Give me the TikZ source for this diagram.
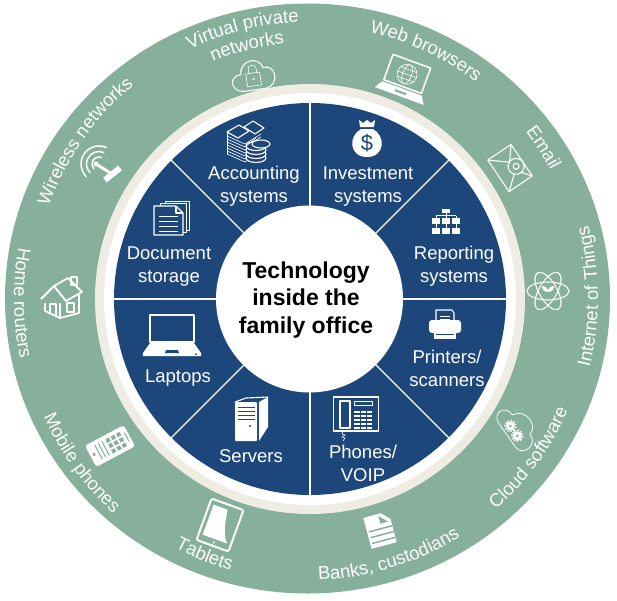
\documentclass[tikz,border=0pt]{standalone}
\usepackage{fontspec}
\setmainfont{Liberation Sans}
\usepackage{xcolor}
\usepackage{tikz}
\usetikzlibrary{decorations.text}

\definecolor{bandgreen}{HTML}{86B09B}
\definecolor{ringcream}{HTML}{EFECE3}
\definecolor{officeblue}{HTML}{1D477B}

\tikzset{
	sector/.style={white,align=center,font=\fontsize{18.5}{23}\selectfont},
	title/.style={black,align=center,font=\fontsize{23}{27.5}\selectfont\bfseries},
	iconline/.style={draw=white,line width=1.1pt,line join=round},
	iconthin/.style={draw=white,line width=0.6pt},
	iconfill/.style={fill=white}
}
\newcommand{\bandtext}[4]{\path[decorate,decoration={text along path,text align=center,
	text={|\fontsize{18.5}{23}\selectfont\color{white}|#4}}] (#2:#1) arc (#2:#3:#1);}

\begin{document}
\begin{tikzpicture}[x=1pt,y=1pt]
	\useasboundingbox (-310,-301) rectangle (307,299);

	\fill[bandgreen] (-2.5,0.5) ellipse [x radius=302.5,y radius=295];
	\foreach \a in {27,-9,207}
		\draw[bandgreen!85!white,line width=0.3pt] (\a:215) -- (\a:298);
	\fill[ringcream] (0,0) circle (215);
	\fill[white] (0,0) circle (206);
	\fill[officeblue] (0,0) circle (196);
	\foreach \a in {0,45,...,315}
		\draw[white,line width=1.4pt] (\a:90) -- (\a:198);
	\fill[white] (-0.5,0) circle (93.5);

	\node[title] (centre) at (-4,-1) {Technology\\inside the\\family office};

	\node[sector] (accounting) at (-56,112.5) {Accounting\\systems};
	\node[sector] (investment) at (58,112.5) {Investment\\systems};
	\node[sector] (reporting) at (144,32.5) {Reporting\\systems};
	\node[sector] (printers) at (137,-69) {Printers/\\scanners};
	\node[sector] (phones) at (53,-164.5) {Phones/\\VOIP};
	\node[sector] (servers) at (-59,-157) {Servers};
	\node[sector] (laptops) at (-132,-79.5) {Laptops};
	\node[sector] (document) at (-141,32.5) {Document\\storage};

	% outer band labels
	\bandtext{277}{175}{115}{Wireless networks}
	\bandtext{277}{134}{74}{Virtual private}
	\bandtext{256.5}{134}{74}{networks}
	\bandtext{273}{95}{35}{Web browsers}
	\bandtext{273}{63}{3}{Email}
	\bandtext{288}{-40}{41}{Internet of Things}
	\bandtext{281}{-76}{4}{Cloud software}
	\bandtext{281}{-113}{-33}{Banks, custodians}
	\bandtext{283}{207.6}{287.6}{Tablets}
	\bandtext{291}{175.6}{255.6}{Mobile phones}
	\bandtext{296}{140.8}{220.8}{Home routers}

	% accounting: notes and coins
	\begin{scope}[shift={(-63,159)}]
		\foreach \y in {-14,-11,...,4}
			\draw[iconthin] (-20,\y) -- (-2,\y-8) -- (14,\y+2);
		\draw[iconline,fill=officeblue] (-20,8) -- (-8,15) -- (2,9) -- (-9,2) -- cycle;
		\draw[iconline,fill=officeblue] (-3,13) -- (6,19) -- (17,12) -- (8,6) -- cycle;
		\draw[iconthin] (-20,8) -- (-20,-14);
		\foreach \y in {-18,-14,...,-6}
			\draw[iconline,fill=officeblue] (9,\y) ellipse [x radius=10,y radius=4.5];
		\draw[iconline,fill=officeblue] (14,-4) ellipse [x radius=9,y radius=4];
		\draw[iconthin] (-2,-7) -- (9,2);
	\end{scope}

	% investment: money bag
	\begin{scope}[shift={(57,160)}]
		\fill[white] (-7,12) -- (-8,19) -- (-4,16) -- (0,19) -- (4,16) -- (8,19) -- (7,12) -- cycle;
		\fill[white] (-6,10) .. controls (-19,3) and (-18,-18) .. (0,-18) .. controls (18,-18) and (19,3) .. (6,10) -- cycle;
		\node[officeblue,font=\fontsize{22}{22}\selectfont] (dollar) at (0,-4) {\$};
	\end{scope}

	% reporting: org chart
	\begin{scope}[shift={(136,78)}]
		\fill[white] (-4,8) rectangle (4,12);
		\foreach \x in {-10,0,10} {
			\fill[white] (\x-4,-3) rectangle (\x+4,3);
			\fill[white] (\x-4,-13) rectangle (\x+4,-7);
			\draw[iconthin] (\x,-7) -- (\x,-3);
			\draw[iconthin] (\x,3) -- (\x,5.5);
		}
		\draw[iconthin] (0,8) -- (0,5.5);
		\draw[iconthin] (-10,5.5) -- (10,5.5);
	\end{scope}

	% printers
	\begin{scope}[shift={(135,-26)}]
		\draw[iconline,fill=officeblue] (-9,15) -- (7,15) -- (9,12) -- (9,0) -- (-9,0) -- cycle;
		\foreach \y in {6,9}
			\draw[iconthin] (-5,\y) -- (5,\y);
		\fill[white,rounded corners=3pt] (-16,-8) -- (-16,5) -- (16,5) -- (16,-8) -- cycle;
		\fill[white] (-11,-14) rectangle (11,-6);
		\draw[officeblue,line width=0.8pt] (-9,-9) -- (9,-9);
	\end{scope}

	% phones: desk phone
	\begin{scope}[shift={(46,-118)}]
		\draw[iconline] (-22.5,-14) rectangle (22.5,20);
		\draw[iconline] (-16,-11) rectangle (-6,16);
		\draw[iconthin] (-2,12) rectangle (16,16);
		\foreach \y in {-11,-7,-3,1,5}
			\draw[white,line width=1.6pt] (-2,\y) -- (16,\y);
		\foreach \x in {4,10}
			\draw[officeblue,line width=0.8pt] (\x,-13) -- (\x,7);
		\draw[iconthin] (-13,-14) -- (-14,-17) -- (-11,-18) -- (-14,-20) -- (-11,-21) -- (-13,-24);
	\end{scope}

	% servers: tower
	\begin{scope}[shift={(-59,-120)}]
		\fill[white,rounded corners=1pt] (-16,17) -- (6,17) -- (6,-22) -- (-16,-22) -- cycle;
		\fill[white] (8,17) -- (17,22) -- (17,-8) -- (8,-22) -- cycle;
		\draw[iconline] (-16,17) -- (-5,21) -- (17,22);
		\foreach \y in {12,8,4,0}
			\draw[officeblue,line width=0.9pt] (-13,\y) -- (4,\y);
		\fill[officeblue] (-1,-7) circle (1.2);
	\end{scope}

	% laptops
	\begin{scope}[shift={(-138,-36)}]
		\draw[white,line width=2pt,line join=round] (-22,-7) rectangle (22,20);
		\fill[white] (-29,-21) -- (29,-21) -- (29,-18) -- (22,-8) -- (-22,-8) -- (-29,-18) -- cycle;
		\fill[officeblue] (-6,-15) -- (6,-15) -- (7,-18) -- (-7,-18) -- cycle;
		\fill[officeblue] (24,-19) circle (1);
	\end{scope}

	% document storage
	\begin{scope}[shift={(-139,81)}]
		\draw[iconthin,fill=officeblue] (-6,-12) rectangle (18,17);
		\draw[iconthin,fill=officeblue] (-11,-14) rectangle (15,15);
		\draw[iconline,fill=officeblue] (-17,-17) -- (-17,12) -- (5,12) -- (12,5) -- (12,-17) -- cycle;
		\draw[iconline] (5,12) -- (5,5) -- (12,5);
		\foreach \y in {2,-3,-8,-13}
			\draw[iconthin] (-12,\y) -- (7,\y);
	\end{scope}

	% wireless networks
	\begin{scope}[shift={(-209,134)}]
		\foreach \r in {7,12.5,18}
			\draw[white,line width=1.5pt] (-2,1)+(65:\r) arc (65:225:\r);
		\fill[white] (-5,1) circle (2.5);
		\draw[white,line width=3pt] (-5,1) -- (11,-9);
		\draw[white,line width=6pt] (4,-15) -- (19,-3);
	\end{scope}

	% virtual private networks: cloud and lock
	\begin{scope}[shift={(-57,224)},rotate=8]
		\draw[iconline] (-10,-15) .. controls (-24,-15) and (-26,2) .. (-12,2)
			.. controls (-12,16) and (8,19) .. (11,6) .. controls (24,8) and (26,-13) .. (11,-15) -- cycle;
		\draw[iconthin] (-7,-11) rectangle (7,2);
		\draw[iconthin] (-4,2) -- (-4,6) arc (180:0:4) -- (4,2);
		\fill[white] (0,-4) circle (1.3);
	\end{scope}

	% web browsers: laptop with globe
	\begin{scope}[shift={(95,219)},rotate=-20]
		\draw[white,line width=1.6pt,line join=round] (-20,-7) rectangle (20,20);
		\fill[white] (-26,-17) -- (26,-17) -- (21,-9) -- (-21,-9) -- cycle;
		\fill[bandgreen] (-6,-12) rectangle (6,-14);
		\draw[iconthin] (0,6) circle (10);
		\draw[iconthin] (0,6) ellipse [x radius=4.5,y radius=10];
		\draw[iconthin] (-10,6) -- (10,6);
		\draw[iconthin] (-8.5,11) -- (8.5,11);
		\draw[iconthin] (-8.5,1) -- (8.5,1);
	\end{scope}

	% email: envelope
	\begin{scope}[shift={(200,131)},rotate=-56]
		\draw[iconline] (-19,-14) rectangle (19,14);
		\draw[iconline] (-19,14) -- (0,-1) -- (19,14);
		\draw[iconline] (-19,-14) -- (-5,3);
		\draw[iconline] (19,-14) -- (5,3);
		\draw[iconline,fill=bandgreen] (2,6) circle (8);
		\draw[iconline] (2,6) circle (3);
	\end{scope}

	% internet of things: atom
	\begin{scope}[shift={(238,8)}]
		\foreach \a in {0,60,120}
			\draw[iconline] (0,0) ellipse [x radius=21,y radius=9,rotate=\a];
		\fill[white] (0,-1) .. controls (-5,-1) and (-6,3) .. (-6,5) .. controls (-3,5) and (-1,4) .. (0,1)
			.. controls (1,4) and (3,5) .. (6,5) .. controls (6,3) and (5,-1) .. (0,-1) -- cycle;
	\end{scope}

	% cloud software: cloud and gears
	\begin{scope}[shift={(208,-129)},rotate=-55]
		\draw[iconline,line width=0.8pt] (-15,-13) .. controls (-27,-13) and (-27,3) .. (-14,3)
			.. controls (-12,17) and (9,19) .. (12,6) .. controls (25,8) and (27,-13) .. (14,-13) -- cycle;
		\foreach \p in {(-6,-5),(6,-5)} {
			\fill[white] \p circle (4.5);
			\draw[white,line width=1.6pt,dash pattern=on 1.5pt off 1.5pt] \p circle (5.5);
			\fill[bandgreen] \p circle (1.5);
		}
	\end{scope}

	% banks: statement page
	\begin{scope}[shift={(70,-231)},rotate=15]
		\fill[white] (-13,-16) -- (13,-16) -- (13,8) -- (5,16) -- (-13,16) -- cycle;
		\fill[bandgreen] (2,14) -- (2,6) -- (10,6) -- cycle;
		\foreach \y in {-11,-5,1}
			\draw[bandgreen,line width=1.5pt] (-11,\y) -- (13,\y);
	\end{scope}

	% tablets
	\begin{scope}[shift={(-90,-226)},rotate=-20]
		\draw[white,line width=2pt,rounded corners=2pt] (-17,-22) rectangle (17,22);
		\fill[white] (-13,-15) -- (-13,17) -- (2,17) .. controls (4,0) and (8,-10) .. (13,-15) -- cycle;
		\fill[white] (0,-18.5) circle (1.2);
	\end{scope}

	% mobile phones
	\begin{scope}[shift={(-200,-147)},rotate=28]
		\fill[white,rounded corners=3pt] (-22,-12) rectangle (22,12);
		\fill[bandgreen] (-18,0) circle (1.8);
		\foreach \x in {-13,-9,-5}
			\draw[bandgreen,line width=1pt] (\x,-8) -- (\x,8);
		\foreach \x in {-1,5,11}
			\foreach \y in {-8,-2,4}
				\fill[bandgreen] (\x,\y) rectangle (\x+4,\y+4);
		\draw[bandgreen,line width=1pt] (19,-5) -- (19,5);
	\end{scope}

	% home routers: house
	\begin{scope}[shift={(-248,0)}]
		\draw[iconline,line width=1.8pt] (-21,0) -- (-8,13) -- (6,21) -- (20,7) -- (4,-2) -- (-8,13);
		\draw[iconline,line width=1.8pt] (-17,-4) -- (-17,-12) -- (-2,-19) -- (-2,-4);
		\draw[iconline,line width=1.8pt] (-2,-19) -- (17,-14) -- (17,4);
		\draw[iconline,line width=1.5pt] (-12,-15) -- (-12,-5) -- (-6,-5) -- (-6,-17);
		\draw[iconline] (5,-13) rectangle (12,-4);
		\draw[iconline] (9,14) rectangle (15,22);
	\end{scope}
\end{tikzpicture}
\end{document}
